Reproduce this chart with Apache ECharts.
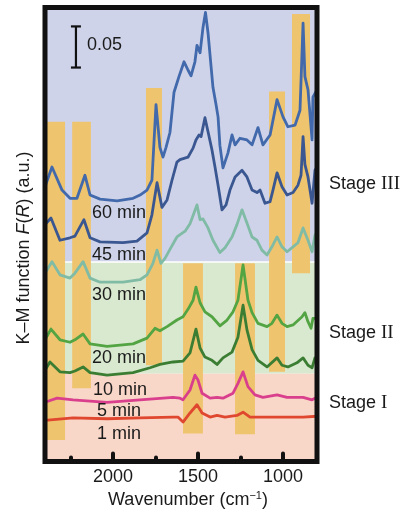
<!DOCTYPE html>
<html><head><meta charset="utf-8">
<script src="https://cdn.jsdelivr.net/npm/echarts@6/dist/echarts.min.js"></script>
<style>html,body{margin:0;padding:0;background:#fff}#c{width:406px;height:513px}</style>
</head><body><div id="c"></div>
<script>
// ---- data (wavenumber cm^-1, K-M function a.u.) ----
const min60 = [[2400,0.325],[2359,0.349],[2300,0.321],[2253,0.311],[2212,0.311],[2165,0.339],[2135,0.315],[2076,0.310],[1976,0.308],[1882,0.311],[1841,0.315],[1800,0.321],[1771,0.333],[1747,0.425],[1724,0.373],[1706,0.361],[1688,0.373],[1665,0.391],[1641,0.440],[1612,0.459],[1582,0.477],[1559,0.467],[1541,0.460],[1518,0.477],[1506,0.497],[1488,0.488],[1471,0.518],[1456,0.537],[1441,0.512],[1412,0.446],[1394,0.425],[1382,0.410],[1371,0.375],[1353,0.348],[1324,0.366],[1300,0.388],[1282,0.376],[1253,0.384],[1212,0.382],[1182,0.376],[1147,0.397],[1118,0.376],[1076,0.388],[1035,0.431],[1000,0.410],[971,0.398],[929,0.400],[900,0.418],[882,0.524],[871,0.459],[853,0.443],[829,0.382],[824,0.434],[800,0.443]];
const min45 = [[2400,0.279],[2365,0.287],[2312,0.260],[2253,0.263],[2224,0.265],[2171,0.285],[2135,0.263],[2076,0.258],[1941,0.257],[1859,0.259],[1800,0.269],[1771,0.291],[1741,0.330],[1712,0.300],[1682,0.309],[1653,0.333],[1624,0.355],[1606,0.358],[1559,0.361],[1529,0.372],[1512,0.382],[1494,0.388],[1482,0.386],[1459,0.409],[1441,0.392],[1418,0.370],[1400,0.349],[1382,0.327],[1359,0.297],[1335,0.303],[1312,0.321],[1282,0.337],[1241,0.345],[1212,0.337],[1182,0.321],[1153,0.318],[1135,0.321],[1106,0.305],[1076,0.307],[1059,0.321],[1035,0.342],[1006,0.325],[976,0.315],[941,0.318],[912,0.327],[894,0.339],[882,0.386],[871,0.352],[853,0.337],[829,0.305],[812,0.345],[800,0.349]];
const min30 = [[2400,0.220],[2359,0.234],[2312,0.218],[2253,0.214],[2224,0.220],[2176,0.234],[2135,0.214],[2076,0.209],[1941,0.209],[1841,0.212],[1800,0.218],[1765,0.232],[1741,0.248],[1718,0.232],[1694,0.238],[1665,0.249],[1624,0.264],[1576,0.271],[1547,0.280],[1506,0.303],[1488,0.285],[1471,0.286],[1441,0.275],[1412,0.260],[1371,0.245],[1341,0.251],[1300,0.264],[1271,0.279],[1241,0.297],[1212,0.281],[1182,0.264],[1153,0.260],[1124,0.248],[1094,0.242],[1065,0.252],[1035,0.264],[1006,0.252],[976,0.246],[941,0.252],[912,0.257],[882,0.275],[853,0.260],[829,0.246],[812,0.266],[800,0.270]];
const min20 = [[2400,0.139],[2365,0.152],[2312,0.139],[2253,0.136],[2224,0.139],[2176,0.146],[2135,0.134],[2035,0.131],[1882,0.134],[1800,0.141],[1753,0.153],[1724,0.150],[1682,0.155],[1624,0.163],[1588,0.167],[1559,0.176],[1529,0.187],[1512,0.203],[1488,0.184],[1459,0.173],[1418,0.167],[1371,0.156],[1329,0.163],[1294,0.173],[1265,0.187],[1235,0.230],[1206,0.187],[1182,0.172],[1147,0.159],[1094,0.155],[1065,0.159],[1035,0.169],[1006,0.159],[976,0.155],[941,0.157],[888,0.167],[871,0.172],[853,0.161],[835,0.153],[824,0.165],[800,0.165]];
const min10 = [[2400,0.102],[2371,0.112],[2312,0.100],[2253,0.099],[2224,0.101],[2176,0.106],[2135,0.099],[2035,0.096],[1882,0.099],[1782,0.105],[1724,0.109],[1647,0.112],[1588,0.113],[1547,0.123],[1512,0.152],[1488,0.129],[1459,0.118],[1418,0.114],[1388,0.109],[1353,0.117],[1300,0.124],[1265,0.142],[1235,0.181],[1212,0.151],[1182,0.127],[1147,0.114],[1094,0.106],[1035,0.117],[1006,0.108],[971,0.106],[918,0.111],[882,0.117],[853,0.108],[829,0.105],[812,0.117],[800,0.114]];
const min5 = [[2400,0.063],[2329,0.068],[2235,0.066],[2035,0.063],[1841,0.066],[1647,0.069],[1606,0.068],[1588,0.066],[1547,0.078],[1518,0.096],[1500,0.090],[1476,0.074],[1429,0.068],[1388,0.069],[1353,0.068],[1294,0.074],[1265,0.086],[1235,0.100],[1206,0.082],[1165,0.072],[1118,0.069],[1035,0.072],[976,0.069],[882,0.069],[829,0.066],[800,0.069]];
const min1 = [[2400,0.041],[2235,0.044],[2035,0.043],[1841,0.044],[1647,0.045],[1618,0.045],[1588,0.039],[1547,0.050],[1506,0.060],[1476,0.050],[1429,0.045],[1388,0.047],[1341,0.045],[1271,0.047],[1235,0.051],[1194,0.045],[1076,0.045],[882,0.045],[800,0.046]];

const seriesNames = ['60 min','45 min','30 min','20 min','10 min','5 min','1 min'];
const seriesData = [min60, min45, min30, min20, min10, min5, min1];

// highlighted bands: [wnStart, wnEnd, yLow, yHigh]
const bands = [[2400,2282,0.017,0.404],[2240,2130,0.080,0.404],[1806,1712,0.108,0.445],[1588,1471,0.025,0.232],[1282,1165,0.024,0.232],[1082,988,0.100,0.441],[947,841,0.220,0.535]];
// stage regions: [wnStart, wnEnd, yLow, yHigh]
const stages = [[2400,800,-0.009,0.098],[2400,800,0.098,0.2335],[2400,800,0.2335,0.543]];
const stageNames = ['Stage I','Stage II','Stage III'];
const scaleBar = [[2218,0.470,0.520]];
const scaleLabel = '0.05';
const xLabels = [2000,1500,1000];
const xMinorTicks = [2250,1750,1250];

// ---- styles ----
const lineColors = ['#4169ab','#3a5791','#80bba5','#53a443','#3b7e33','#d93f8c','#e0472f'];
const stageColors = ['#f8d6c8','#d9e9cf','#ced3e9'];
const bandColor = '#efc46f';
const FONT = '"Liberation Sans", Arial, sans-serif';
const SERIF = '"Liberation Serif", "Times New Roman", serif';

const chart = echarts.init(document.getElementById('c'), null, {renderer:'canvas'});

const stageFn = i => stageColors[i];
function rectRender(colorFn){
  return function(params, api){
    const a = api.coord([api.value(0), api.value(3)]);
    const b = api.coord([api.value(1), api.value(2)]);
    const x = Math.min(a[0],b[0]), y = Math.min(a[1],b[1]);
    const w = Math.abs(b[0]-a[0]), h = Math.abs(b[1]-a[1]);
    const children = [{type:'rect', shape:{x, y, width:w, height:h}, style:{fill: colorFn(params.dataIndex)}}];
    if (colorFn === stageFn && params.dataIndex === 2) {
      children.push({type:'line', shape:{x1:x, y1:y+h, x2:x+w, y2:y+h}, style:{stroke:'#ffffff', lineWidth:1.5}});
    }
    return {type:'group', children};
  };
}

const series = [
  {type:'custom', z:1, silent:true, clip:true, renderItem: rectRender(stageFn), data: stages, encode:{x:[0,1], y:[2,3]}},
  {type:'custom', z:2, silent:true, clip:true, renderItem: rectRender(() => bandColor), data: bands, encode:{x:[0,1], y:[2,3]}},
  {type:'custom', z:4, silent:true, renderItem: function(params, api){
      const top = api.coord([api.value(0), api.value(2)]);
      const bot = api.coord([api.value(0), api.value(1)]);
      const s = {stroke:'#111', lineWidth:2.2};
      return {type:'group', children:[
        {type:'line', shape:{x1:top[0], y1:top[1], x2:bot[0], y2:bot[1]}, style:s},
        {type:'line', shape:{x1:top[0]-5, y1:top[1], x2:top[0]+5, y2:top[1]}, style:s},
        {type:'line', shape:{x1:bot[0]-5, y1:bot[1], x2:bot[0]+5, y2:bot[1]}, style:s}
      ]};
    }, data: scaleBar, encode:{x:0, y:[1,2]}}
];
seriesNames.forEach((n,i) => {
  series.push({type:'line', name:n, z:3, data: seriesData[i], showSymbol:false, smooth:false,
    lineStyle:{color: lineColors[i], width:2.8, join:'round'}, silent:true});
});

const txt = (x, y, text, extra) => Object.assign({type:'text', x, y, z:50, style: Object.assign({text, fill:'#1a1a1a', font:'18px '+FONT, align:'left', verticalAlign:'middle', textAlign:'left', textVerticalAlign:'middle'}, extra||{})});

const minLabelPos = [[92,213],[92,255],[92,295],[92,358],[93,390],[97,411],[97,434]];
const stageLabelPos = [[329,403.5],[329,333.5],[329,184.5]];

const graphic = [
  {type:'rect', z:100, shape:{x:45, y:7.5, width:272, height:454}, style:{fill:'none', stroke:'#111', lineWidth:5}},
  txt(87, 45, scaleLabel),
  {type:'text', x:24, y:248, rotation:Math.PI/2, z:50, style:{
    text:'{n|K–M function }{i|F}{n|(}{i|R}{n|) (a.u.)}', align:'center', verticalAlign:'middle', textAlign:'center', textVerticalAlign:'middle',
    rich:{n:{fontSize:18, fontFamily:FONT, fill:'#1a1a1a'}, i:{fontSize:18, fontFamily:FONT, fontStyle:'italic', fill:'#1a1a1a'}}}},
  {type:'text', x:188, y:500, z:50, style:{
    text:'{n|Wavenumber (cm}{s|−1}{n|)}', align:'center', verticalAlign:'middle', textAlign:'center', textVerticalAlign:'middle',
    rich:{n:{fontSize:18, fontFamily:FONT, fill:'#1a1a1a', lineHeight:20}, s:{fontSize:11, fontFamily:FONT, fill:'#1a1a1a', verticalAlign:'top', lineHeight:20}}}}
];
seriesNames.forEach((n,i) => graphic.push(txt(minLabelPos[i][0], minLabelPos[i][1], n)));
stageNames.forEach((n,i) => {
  const parts = n.split(' ');
  graphic.push({type:'text', x:stageLabelPos[i][0], y:stageLabelPos[i][1], z:50, style:{
    text:'{n|'+parts[0]+' }{r|'+parts[1]+'}', align:'left', verticalAlign:'middle', textAlign:'left', textVerticalAlign:'middle',
    rich:{n:{fontSize:18, fontFamily:FONT, fill:'#1a1a1a'}, r:{fontSize:19, fontFamily:SERIF, fill:'#1a1a1a'}}}});
});

const xBase = {type:'value', min:800, max:2400, inverse:true, splitLine:{show:false}, z:10};
chart.setOption({
  animation:false,
  grid:{left:45, right:89, top:7.5, bottom:51.5, containLabel:false},
  xAxis:[
    Object.assign({}, xBase, {position:'bottom',
      axisLine:{show:false, onZero:false},
      axisTick:{show:true, inside:true, length:8, customValues:xLabels, lineStyle:{color:'#111', width:4, cap:'round'}},
      axisLabel:{show:true, customValues:xLabels, margin:7, fontSize:18, fontFamily:FONT, color:'#1a1a1a', formatter: v => String(v)}}),
    Object.assign({}, xBase, {position:'bottom', offset:0,
      axisLine:{show:false, onZero:false},
      axisTick:{show:true, inside:true, length:4, customValues:xMinorTicks, lineStyle:{color:'#111', width:4, cap:'round'}},
      axisLabel:{show:false}})
  ],
  yAxis:{type:'value', min:-0.009, max:0.543, show:false},
  series: series,
  graphic: graphic
});
</script></body></html>
